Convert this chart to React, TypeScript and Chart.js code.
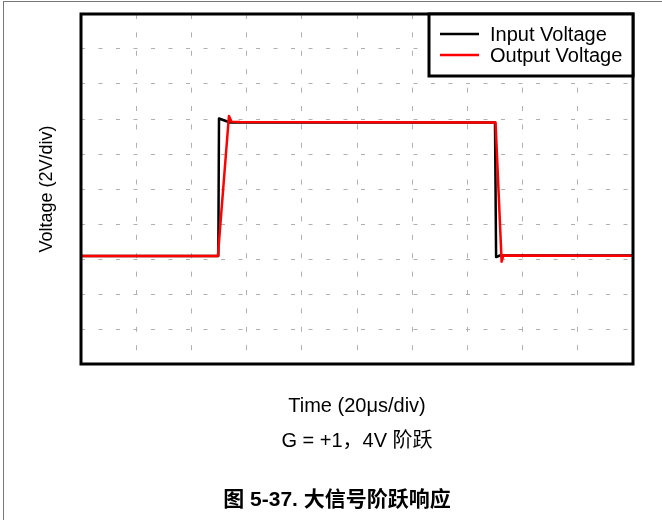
import React, { useEffect, useRef } from 'react';
import { Chart, registerables } from 'chart.js';

Chart.register(...registerables);

// Time in µs (20 µs/div, 10 divisions), voltage in V (2 V/div, 10 divisions)
const inputTime = [0, 49.75, 50.0, 54.0, 150.0, 150.4, 151.8, 200];
const inputVolt = [-3.83, -3.83, 4.03, 3.8, 3.8, -3.89, -3.8, -3.8];
const outputTime = [0, 49.6, 53.6, 54.5, 57.6, 150.2, 152.4, 153.0, 200];
const outputVolt = [-3.83, -3.83, 4.17, 3.85, 3.83, 3.8, -4.15, -3.8, -3.82];

const seriesLabels = ['Input Voltage', 'Output Voltage'];
const seriesColors = ['#000000', '#ff0000'];
const xTitle = ['Time (20μs/div)', 'G = +1，4V 阶跃'];
const yTitle = 'Voltage (2V/div)';
const caption = '图 5-37. 大信号阶跃响应';

const FONT = '"Liberation Sans", Arial, "Noto Sans CJK SC", sans-serif';

const framePlugin = {
  id: 'frameAndLegend',
  afterDatasetsDraw(chart: any) {
    const { ctx, chartArea: a } = chart;
    ctx.save();
    // plot frame
    ctx.lineWidth = 3;
    ctx.strokeStyle = '#000';
    ctx.strokeRect(a.left, a.top, a.right - a.left, a.bottom - a.top);
    // legend box
    const w = 204;
    const h = 62;
    const x = a.right - w;
    const y = a.top;
    ctx.fillStyle = '#fff';
    ctx.fillRect(x, y, w, h);
    ctx.lineWidth = 3;
    ctx.strokeStyle = '#000';
    ctx.strokeRect(x, y, w, h);
    chart.data.datasets.forEach((ds: any, i: number) => {
      const ly = y + 20 + i * 21;
      ctx.strokeStyle = ds.borderColor;
      ctx.lineWidth = 2.5;
      ctx.beginPath();
      ctx.moveTo(x + 11, ly);
      ctx.lineTo(x + 50, ly);
      ctx.stroke();
      ctx.fillStyle = '#000';
      ctx.font = '20px ' + FONT;
      ctx.textBaseline = 'alphabetic';
      ctx.textAlign = 'left';
      ctx.fillText(ds.label, x + 61, ly + 7);
    });
    ctx.restore();
  },
};

export default function App() {
  const ref = useRef<HTMLCanvasElement>(null);

  useEffect(() => {
    const toPts = (t: number[], v: number[]) => t.map((x, i) => ({ x, y: v[i] }));
    const chart = new Chart(ref.current as HTMLCanvasElement, {
      type: 'scatter',
      data: {
        datasets: [
          {
            label: seriesLabels[0],
            data: toPts(inputTime, inputVolt),
            borderColor: seriesColors[0],
            backgroundColor: seriesColors[0],
            borderWidth: 2.5,
            borderJoinStyle: 'round',
            showLine: true,
            pointRadius: 0,
            tension: 0,
            order: 1,
          },
          {
            label: seriesLabels[1],
            data: toPts(outputTime, outputVolt),
            borderColor: seriesColors[1],
            backgroundColor: seriesColors[1],
            borderWidth: 2.5,
            borderJoinStyle: 'round',
            showLine: true,
            pointRadius: 0,
            tension: 0,
            order: 0,
          },
        ],
      },
      options: {
        animation: false,
        responsive: false,
        devicePixelRatio: 1,
        layout: { padding: { top: 14, right: 29, left: 0, bottom: 51.5 } },
        scales: {
          x: {
            type: 'linear',
            min: 0,
            max: 200,
            ticks: { display: false, stepSize: 20 },
            grid: { color: '#b0b0b0', lineWidth: 1, drawTicks: false },
            border: { display: false, dash: [5, 13.4], dashOffset: 0 } as any,
            title: {
              display: true,
              text: xTitle,
              color: '#000',
              font: { family: FONT, size: 20, lineHeight: 35 / 20 },
              padding: { top: 24.5, bottom: 10 },
            },
          },
          y: {
            type: 'linear',
            min: -10,
            max: 10,
            ticks: { display: false, stepSize: 2 },
            grid: { color: '#b0b0b0', lineWidth: 1, drawTicks: false },
            border: { display: false, dash: [4, 13.5], dashOffset: 0 } as any,
            title: {
              display: true,
              text: yTitle,
              color: '#000',
              font: { family: FONT, size: 18, lineHeight: 1.2 },
              padding: { top: 24.2, bottom: 23.2 },
            },
          },
        },
        plugins: {
          legend: { display: false },
          tooltip: { enabled: false },
          title: { display: false },
        },
      } as any,
      plugins: [framePlugin],
    });
    return () => chart.destroy();
  }, []);

  return (
    <div style={{ position: 'fixed', left: 0, top: 0, width: 662, height: 520, background: '#fff', overflow: 'hidden' }}>
      <div
        style={{
          position: 'absolute',
          left: 3,
          top: 1,
          right: -2,
          bottom: -2,
          borderLeft: '1px solid #777',
          borderTop: '1px solid #777',
        }}
      />
      <div style={{ position: 'absolute', left: 12, top: 0, width: 650, height: 520 }}>
        <canvas ref={ref} width={650} height={520} style={{ display: 'block' }} />
      </div>
      <div
        style={{
          position: 'absolute',
          left: 0,
          top: 485.5,
          width: 674,
          height: 25,
          lineHeight: '25px',
          textAlign: 'center',
          fontFamily: FONT,
          fontSize: 21,
          fontWeight: 'bold',
          color: '#000',
          whiteSpace: 'nowrap',
        }}
      >
        {caption}
      </div>
    </div>
  );
}
